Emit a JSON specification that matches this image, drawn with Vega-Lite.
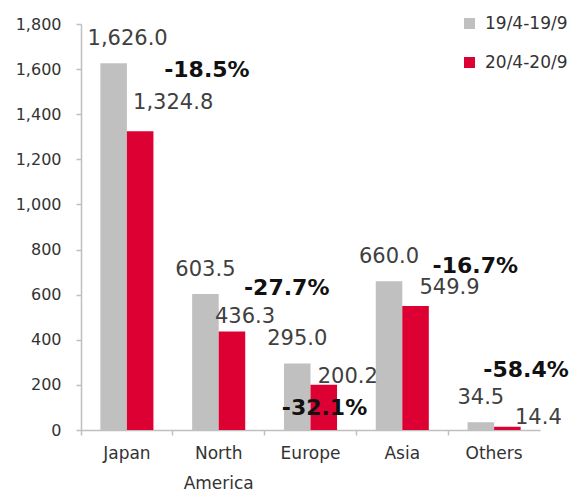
{
  "$schema": "https://vega.github.io/schema/vega-lite/v6.json",
  "width": 459,
  "height": 406,
  "autosize": {"type": "none"},
  "padding": {"left": 81, "top": 24, "right": 35, "bottom": 67},
  "config": {"view": {"stroke": null}, "font": "DejaVu Sans"},
  "data": {
    "values": [
      {"region": "Japan", "series": "19/4-19/9", "value": 1626.0, "change": "-18.5%"},
      {"region": "Japan", "series": "20/4-20/9", "value": 1324.8, "change": "-18.5%"},
      {"region": "North America", "series": "19/4-19/9", "value": 603.5, "change": "-27.7%"},
      {"region": "North America", "series": "20/4-20/9", "value": 436.3, "change": "-27.7%"},
      {"region": "Europe", "series": "19/4-19/9", "value": 295.0, "change": "-32.1%"},
      {"region": "Europe", "series": "20/4-20/9", "value": 200.2, "change": "-32.1%"},
      {"region": "Asia", "series": "19/4-19/9", "value": 660.0, "change": "-16.7%"},
      {"region": "Asia", "series": "20/4-20/9", "value": 549.9, "change": "-16.7%"},
      {"region": "Others", "series": "19/4-19/9", "value": 34.5, "change": "-58.4%"},
      {"region": "Others", "series": "20/4-20/9", "value": 14.4, "change": "-58.4%"}
    ]
  },
  "encoding": {
    "x": {
      "field": "region", "type": "nominal",
      "sort": ["Japan", "North America", "Europe", "Asia", "Others"],
      "scale": {"paddingInner": 0, "paddingOuter": 0},
      "axis": {
        "title": null, "labelAngle": 0, "bandPosition": 0,
        "domainColor": "#bfbfbf", "domainWidth": 1.5,
        "tickColor": "#bfbfbf", "tickWidth": 1.5, "tickSize": 5,
        "labelFontSize": 17, "labelColor": "#333333", "labelPadding": 10,
        "labelLineHeight": 30,
        "labelExpr": "datum.value == 'North America' ? ['North', 'America'] : datum.value"
      }
    },
    "y": {
      "field": "value", "type": "quantitative",
      "scale": {"domain": [0, 1800], "nice": false},
      "axis": {
        "title": null, "grid": false, "values": [0, 200, 400, 600, 800, 1000, 1200, 1400, 1600, 1800],
        "format": ",d", "domainColor": "#bfbfbf", "domainWidth": 1.5,
        "tickColor": "#bfbfbf", "tickWidth": 1.5, "tickSize": 5,
        "labelFontSize": 16, "labelColor": "#333333", "labelPadding": 15
      }
    }
  },
  "layer": [
    {
      "mark": {"type": "bar"},
      "encoding": {
        "xOffset": {"field": "series", "scale": {"paddingInner": 0, "paddingOuter": 0.73}},
        "color": {
          "field": "series", "type": "nominal",
          "scale": {"domain": ["19/4-19/9", "20/4-20/9"], "range": ["#c0c0c0", "#dd0033"]},
          "legend": {
            "title": null, "orient": "none", "legendX": 380, "legendY": -9,
            "symbolType": "square", "symbolSize": 121, "symbolStrokeWidth": 0,
            "labelFontSize": 17, "labelColor": "#333333", "labelOffset": 7,
            "rowPadding": 21, "padding": 0,
            "encode": {
              "symbols": {
                "enter": {
                  "fill": {"signal": "datum.value === '19/4-19/9' ? '#888888' : '#dd0033'"}
                },
                "update": {
                  "fill": {"signal": "datum.value === '19/4-19/9' ? '#888888' : '#dd0033'"},
                  "fillOpacity": {"value": 1}
                }
              }
            }
          }
        }
      }
    },
    {
      "transform": [{"filter": "datum.series == '19/4-19/9' && datum.region != 'Japan'"}],
      "mark": {"type": "text", "dy": -24, "baseline": "middle", "fontSize": 21, "color": "#404040"},
      "encoding": {
        "xOffset": {"field": "series"},
        "text": {"field": "value", "type": "quantitative", "format": ",.1f"}
      }
    },
    {
      "transform": [{"filter": "datum.series == '19/4-19/9' && datum.region == 'Japan'"}],
      "mark": {"type": "text", "dx": 14, "dy": -24, "baseline": "middle", "fontSize": 21, "color": "#404040"},
      "encoding": {
        "xOffset": {"field": "series"},
        "text": {"field": "value", "type": "quantitative", "format": ",.1f"}
      }
    },
    {
      "transform": [{"filter": "datum.series == '20/4-20/9' && datum.region == 'Japan'"}],
      "mark": {"type": "text", "dx": 33, "dy": -28, "baseline": "middle", "fontSize": 21, "color": "#404040"},
      "encoding": {"xOffset": {"field": "series"}, "text": {"field": "value", "type": "quantitative", "format": ",.1f"}}
    },
    {
      "transform": [{"filter": "datum.series == '20/4-20/9' && datum.region == 'North America'"}],
      "mark": {"type": "text", "dx": 13, "dy": -15, "baseline": "middle", "fontSize": 21, "color": "#404040"},
      "encoding": {"xOffset": {"field": "series"}, "text": {"field": "value", "type": "quantitative", "format": ",.1f"}}
    },
    {
      "transform": [{"filter": "datum.series == '20/4-20/9' && datum.region == 'Europe'"}],
      "mark": {"type": "text", "dx": 24, "dy": -8, "baseline": "middle", "fontSize": 21, "color": "#404040"},
      "encoding": {"xOffset": {"field": "series"}, "text": {"field": "value", "type": "quantitative", "format": ",.1f"}}
    },
    {
      "transform": [{"filter": "datum.series == '20/4-20/9' && datum.region == 'Asia'"}],
      "mark": {"type": "text", "dx": 34, "dy": -18, "baseline": "middle", "fontSize": 21, "color": "#404040"},
      "encoding": {"xOffset": {"field": "series"}, "text": {"field": "value", "type": "quantitative", "format": ",.1f"}}
    },
    {
      "transform": [{"filter": "datum.series == '20/4-20/9' && datum.region == 'Others'"}],
      "mark": {"type": "text", "dx": 31, "dy": -9, "baseline": "middle", "fontSize": 21, "color": "#404040"},
      "encoding": {"xOffset": {"field": "series"}, "text": {"field": "value", "type": "quantitative", "format": ",.1f"}}
    },
    {
      "transform": [{"filter": "datum.series == '20/4-20/9' && datum.region == 'Japan'"}],
      "mark": {"type": "text", "dx": 80, "dy": -61, "baseline": "middle", "fontSize": 22, "fontWeight": "bold", "color": "#111111"},
      "encoding": {"text": {"field": "change"}}
    },
    {
      "transform": [{"filter": "datum.series == '20/4-20/9' && datum.region == 'North America'"}],
      "mark": {"type": "text", "dx": 68, "dy": -44, "baseline": "middle", "fontSize": 22, "fontWeight": "bold", "color": "#111111"},
      "encoding": {"text": {"field": "change"}}
    },
    {
      "transform": [{"filter": "datum.series == '20/4-20/9' && datum.region == 'Europe'"}],
      "mark": {"type": "text", "dx": 14, "dy": 23, "baseline": "middle", "fontSize": 22, "fontWeight": "bold", "color": "#111111"},
      "encoding": {"text": {"field": "change"}}
    },
    {
      "transform": [{"filter": "datum.series == '20/4-20/9' && datum.region == 'Asia'"}],
      "mark": {"type": "text", "dx": 73, "dy": -40, "baseline": "middle", "fontSize": 22, "fontWeight": "bold", "color": "#111111"},
      "encoding": {"text": {"field": "change"}}
    },
    {
      "transform": [{"filter": "datum.series == '20/4-20/9' && datum.region == 'Others'"}],
      "mark": {"type": "text", "dx": 32, "dy": -57, "baseline": "middle", "fontSize": 22, "fontWeight": "bold", "color": "#111111"},
      "encoding": {"text": {"field": "change"}}
    }
  ]
}
